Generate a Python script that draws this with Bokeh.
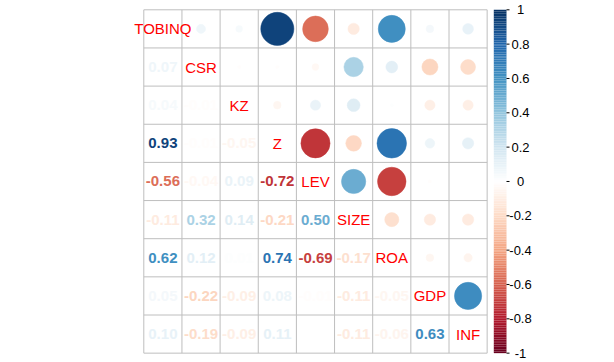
import numpy as np
from bokeh.plotting import figure
from bokeh.models import Range1d
from bokeh.core.properties import value
from bokeh.embed import file_html
from bokeh.resources import INLINE

# ---- data ----
variables = ["TOBINQ", "CSR", "KZ", "Z", "LEV", "SIZE", "ROA", "GDP", "INF"]
# lower-triangle correlations, row by row (row i has i values)
r_csr = [0.07]
r_kz = [0.04, -0.01]
r_z = [0.93, -0.01, -0.05]
r_lev = [-0.56, -0.04, 0.09, -0.72]
r_size = [-0.11, 0.32, 0.14, -0.21, 0.50]
r_roa = [0.62, 0.12, 0.01, 0.74, -0.69, -0.17]
r_gdp = [0.05, -0.22, -0.09, 0.08, -0.01, -0.11, -0.05]
r_inf = [0.10, -0.19, -0.09, 0.11, 0.00, -0.11, -0.06, 0.63]
lower_rows = [[], r_csr, r_kz, r_z, r_lev, r_size, r_roa, r_gdp, r_inf]
legend_ticks = [1, 0.8, 0.6, 0.4, 0.2, 0, -0.2, -0.4, -0.6, -0.8, -1]
legend_labels = ["1", "0.8", "0.6", "0.4", "0.2", "0", "-0.2", "-0.4", "-0.6", "-0.8", "-1"]

n = len(variables)
M = np.eye(n)
for i, row in enumerate(lower_rows):
    for j, v in enumerate(row):
        M[i, j] = v
        M[j, i] = v

anchors = ["#67001F", "#B2182B", "#D6604D", "#F4A582", "#FDDBC7", "#FFFFFF",
           "#D1E5F0", "#92C5DE", "#4393C3", "#2166AC", "#053061"]
anc = np.array([[int(h[k:k + 2], 16) for k in (1, 3, 5)] for h in anchors], float)
apos = np.linspace(-1, 1, len(anchors))


def cmap(v):
    rgb = [np.interp(v, apos, anc[:, c]) for c in range(3)]
    return "#%02x%02x%02x" % tuple(int(round(c)) for c in rgb)


# ---- geometry ----
s = 38.15
W, H = 614, 362
gx0, gy0 = 143.3, 9.3  # grid top-left in canvas px
p = figure(width=W, height=H, output_backend="svg", toolbar_location=None,
           x_range=Range1d(-gx0 / s, (W - gx0) / s),
           y_range=Range1d(n - (H - gy0) / s, n + gy0 / s),
           min_border=0)
p.axis.visible = False
p.grid.visible = False
p.outline_line_color = None
p.background_fill_color = "white"

# grid lines
gl = list(range(n + 1))
p.segment(x0=gl, y0=[0] * (n + 1), x1=gl, y1=[n] * (n + 1), line_color="#BEBEBE", line_width=1)
p.segment(x0=[0] * (n + 1), y0=gl, x1=[n] * (n + 1), y1=gl, line_color="#BEBEBE", line_width=1)

# upper circles / lower numbers
cx, cy, cr, cc = [], [], [], []
tx, ty, tt, tc = [], [], [], []
for i in range(n):
    for j in range(n):
        v = M[i, j]
        x = j + 0.5
        y = n - i - 0.5
        if j > i:
            cx.append(x); cy.append(y); cr.append(0.45 * np.sqrt(abs(v))); cc.append(cmap(v))
        elif j < i:
            tx.append(x); ty.append(y); tt.append("%.2f" % v); tc.append(cmap(v))

p.circle(x=cx, y=cy, radius=cr, fill_color=cc, line_color=cc, line_width=0.5)
p.text(x=tx, y=ty, text=tt, text_color=tc, text_align="center", text_baseline="middle",
       text_font=value("Liberation Sans"), text_font_style="bold", text_font_size="15px")

# diagonal labels
p.text(x=[i + 0.5 for i in range(n)], y=[n - i - 0.5 for i in range(n)], text=variables,
       text_color="#FF0000", text_align="center", text_baseline="middle",
       text_font=value("Liberation Sans"), text_font_size="15px")

# colour legend
bx0, bx1 = (493.3 - gx0) / s, (506 - gx0) / s
nb = 200
edges = np.linspace(-1, 1, nb + 1)
mids = (edges[:-1] + edges[1:]) / 2
ymap = lambda v: n / 2 + np.asarray(v) * n / 2
p.quad(left=bx0, right=bx1, bottom=ymap(edges[:-1]), top=ymap(edges[1:]),
       fill_color=[cmap(v) for v in mids], line_color=None)
tk_y = ymap(legend_ticks)
p.segment(x0=[bx1] * len(tk_y), y0=tk_y, x1=[bx1 + 3 / s] * len(tk_y), y1=tk_y,
          line_color="black", line_width=1)
p.text(x=[(520 - gx0) / s] * len(tk_y), y=tk_y, text=legend_labels, text_color="black",
       text_align="center", text_baseline="middle",
       text_font=value("Liberation Sans"), text_font_size="13px")

open("out.html", "w").write(file_html(p, INLINE))
